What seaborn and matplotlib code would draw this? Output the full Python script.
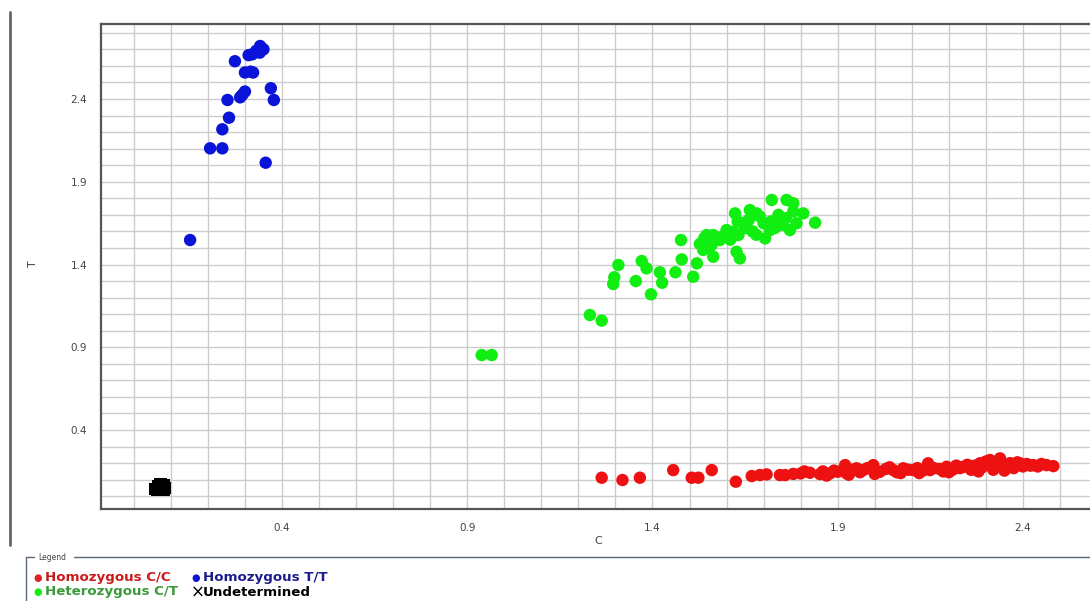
import matplotlib
matplotlib.use("Agg")
import matplotlib.pyplot as plt
from matplotlib.lines import Line2D
from matplotlib.ticker import MultipleLocator, FixedLocator
import pandas as pd
import seaborn as sns

# allele intensity readings (C, T) per genotype call
homo_tt = [(0.341, 2.72), (0.35, 2.70), (0.33, 2.69), (0.34, 2.68), (0.32, 2.67),
           (0.31, 2.665), (0.273, 2.628), (0.30, 2.56), (0.315, 2.565), (0.322, 2.56),
           (0.30, 2.445), (0.287, 2.41), (0.293, 2.425), (0.37, 2.465), (0.378, 2.394),
           (0.253, 2.394), (0.257, 2.287), (0.239, 2.217), (0.206, 2.102), (0.239, 2.102),
           (0.356, 2.015), (0.152, 1.548)]

hetero_ct = [(0.939, 0.853), (0.966, 0.853), (1.231, 1.095), (1.263, 1.061),
             (1.294, 1.282), (1.297, 1.323), (1.308, 1.397), (1.355, 1.30), (1.371, 1.421),
             (1.384, 1.377), (1.396, 1.22), (1.42, 1.353), (1.426, 1.29), (1.462, 1.353),
             (1.477, 1.548), (1.479, 1.431), (1.51, 1.326), (1.52, 1.407), (1.528, 1.524),
             (1.537, 1.488), (1.546, 1.578), (1.555, 1.508), (1.564, 1.578), (1.564, 1.447),
             (1.582, 1.548), (1.60, 1.608), (1.618, 1.598), (1.623, 1.709), (1.627, 1.477),
             (1.632, 1.578), (1.636, 1.437), (1.644, 1.649), (1.663, 1.729), (1.681, 1.709),
             (1.70, 1.649), (1.704, 1.558), (1.717, 1.608), (1.722, 1.79), (1.762, 1.79),
             (1.78, 1.77), (1.771, 1.608), (1.789, 1.649), (1.807, 1.709), (1.839, 1.653),
             (1.59, 1.57), (1.61, 1.55), (1.65, 1.62), (1.66, 1.67), (1.67, 1.60),
             (1.69, 1.69), (1.72, 1.66), (1.74, 1.70), (1.75, 1.64), (1.76, 1.68),
             (1.78, 1.72), (1.73, 1.62), (1.68, 1.58), (1.63, 1.66), (1.56, 1.52),
             (1.54, 1.56)]

homo_cc = [(1.263, 0.112), (1.319, 0.098), (1.366, 0.112), (1.456, 0.158), (1.506, 0.112),
           (1.524, 0.112), (1.56, 0.158), (1.625, 0.088), (1.668, 0.122), (1.69, 0.128),
           (1.708, 0.132), (1.744, 0.128), (1.758, 0.128), (1.78, 0.135), (1.80, 0.138),
           (1.81, 0.15), (1.825, 0.142), (1.852, 0.134), (1.86, 0.15), (1.879, 0.138),
           (1.89, 0.155), (1.90, 0.148), (1.92, 0.188), (1.924, 0.138), (1.94, 0.16),
           (1.951, 0.169), (1.96, 0.145), (1.969, 0.158), (1.98, 0.17), (1.996, 0.188),
           (2.005, 0.15), (2.014, 0.148), (2.03, 0.165), (2.04, 0.175), (2.05, 0.158),
           (2.06, 0.145), (2.077, 0.169), (2.09, 0.16), (2.104, 0.158), (2.115, 0.17),
           (2.13, 0.155), (2.144, 0.199), (2.149, 0.158), (2.16, 0.17), (2.175, 0.165),
           (2.185, 0.15), (2.194, 0.178), (2.21, 0.16), (2.22, 0.185), (2.23, 0.17),
           (2.239, 0.178), (2.25, 0.19), (2.26, 0.16), (2.27, 0.185), (2.284, 0.199),
           (2.29, 0.175), (2.30, 0.21), (2.311, 0.219), (2.32, 0.16), (2.33, 0.195),
           (2.338, 0.229), (2.345, 0.18), (2.356, 0.188), (2.365, 0.20), (2.375, 0.17),
           (2.385, 0.205), (2.392, 0.199), (2.40, 0.18), (2.41, 0.195), (2.42, 0.185),
           (2.428, 0.188), (2.44, 0.18), (2.45, 0.195), (2.464, 0.188), (2.482, 0.182),
           (1.87, 0.125), (1.93, 0.13), (2.0, 0.135), (2.07, 0.14), (2.12, 0.14),
           (2.2, 0.145), (2.28, 0.15), (2.35, 0.155)]

undetermined = [(0.058, 0.045), (0.065, 0.06), (0.072, 0.07), (0.08, 0.065),
                (0.085, 0.05), (0.075, 0.04), (0.062, 0.04), (0.07, 0.055), (0.082, 0.04)]

calls = ["Homozygous C/C", "Homozygous T/T", "Heterozygous C/T", "Undetermined"]
colors = {"Homozygous C/C": "#ee1111", "Homozygous T/T": "#0a14d8",
          "Heterozygous C/T": "#11ee11", "Undetermined": "#000000"}
markers = {"Homozygous C/C": "o", "Homozygous T/T": "o",
           "Heterozygous C/T": "o", "Undetermined": "s"}
ticks = [0.4, 0.9, 1.4, 1.9, 2.4]

rows = []
for name, pts in zip(calls, [homo_cc, homo_tt, hetero_ct, undetermined]):
    for c, t in pts:
        rows.append({"C": c, "T": t, "call": name})
df = pd.DataFrame(rows)

sns.set_style("white")
plt.rcParams['font.family'] = ['DejaVu Sans']

fig = plt.figure(figsize=(10.9, 6.01), dpi=100)
ax = fig.add_axes([101 / 1090, 1 - 509 / 601, 1 - 101 / 1090, (509 - 24) / 601])

sns.scatterplot(data=df, x="C", y="T", hue="call", style="call", palette=colors,
                markers=markers, s=80, linewidth=0, legend=False, ax=ax, zorder=3)

ax.set_xlim(-0.0885, 2.581)
ax.set_ylim(-0.077, 2.853)
ax.xaxis.set_major_locator(FixedLocator(ticks))
ax.yaxis.set_major_locator(FixedLocator(ticks))
ax.xaxis.set_minor_locator(MultipleLocator(0.1))
ax.yaxis.set_minor_locator(MultipleLocator(0.1))
ax.set_xticklabels([str(v) for v in ticks])
ax.set_yticklabels([str(v) for v in ticks])
ax.grid(which="both", color="#cccccc", linewidth=1.0)
ax.set_axisbelow(True)
ax.tick_params(which="both", direction="out", length=5, width=1, color="#c4c4c4",
               labelsize=7.5, labelcolor="#444444", pad=5)
ax.set_xlabel("")
ax.set_ylabel("")
for side in ["left", "top", "bottom"]:
    ax.spines[side].set_color("#555555")
    ax.spines[side].set_linewidth(1.6)
ax.spines["right"].set_visible(False)

fig.text(598 / 1090, 1 - 541 / 601, "C", ha="center", va="center", fontsize=8, color="#444444")
fig.text(33 / 1090, 1 - 264 / 601, "T", ha="center", va="center", fontsize=8,
         color="#444444", rotation=90)

# panel frame on the left and the legend group box
fig.add_artist(Line2D([10 / 1090, 10 / 1090], [1 - 12 / 601, 1 - 545 / 601],
                      transform=fig.transFigure, color="#666666", lw=2))
box_c = "#5a6a7a"
fig.add_artist(Line2D([26 / 1090, 34 / 1090], [1 - 557 / 601] * 2,
                      transform=fig.transFigure, color=box_c, lw=1))
fig.add_artist(Line2D([74 / 1090, 1.0], [1 - 557 / 601] * 2,
                      transform=fig.transFigure, color=box_c, lw=1))
fig.add_artist(Line2D([26 / 1090, 26 / 1090], [1 - 557 / 601, 0.0],
                      transform=fig.transFigure, color=box_c, lw=1))
fig.text(38 / 1090, 1 - 557 / 601, "Legend", ha="left", va="center", fontsize=5.5, color="#444444")

legend_rows = [("Homozygous C/C", 33, 578, "#cc1a1a"),
               ("Homozygous T/T", 191, 578, "#1c1c8c"),
               ("Heterozygous C/T", 33, 592, "#3a9a3a"),
               ("Undetermined", 191, 592, "#000000")]
for label, px, py, col in legend_rows:
    if label == "Undetermined":
        fig.text(px / 1090, 1 - (py + 1) / 601, "\u00d7", ha="left", va="center",
                 fontsize=12, color="#000000")
    else:
        mcol = "#dd2222" if label == "Homozygous C/C" else colors[label]
        fig.text(px / 1090, 1 - py / 601, "\u25cf", ha="left", va="center", fontsize=7,
                 color=mcol)
    fig.text((px + 12) / 1090, 1 - py / 601, label, ha="left", va="center", fontsize=9.6,
             fontweight="bold", color=col)

fig.savefig("out.png", dpi=100)
